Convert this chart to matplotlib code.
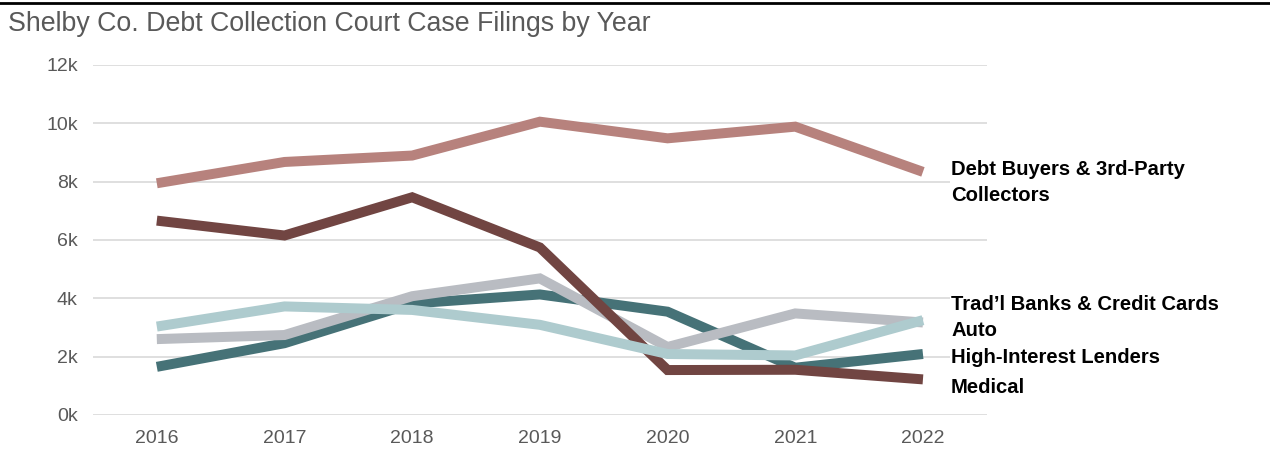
import matplotlib.pyplot as plt
from matplotlib.lines import Line2D

plt.rcParams['font.family'] = ['Liberation Sans', 'DejaVu Sans']

# data (thousands of filings)
years = ['2016', '2017', '2018', '2019', '2020', '2021', '2022']
high_interest = [1.65, 2.46, 3.82, 4.13, 3.54, 1.62, 2.09]
auto = [2.60, 2.74, 4.07, 4.68, 2.33, 3.48, 3.17]
medical = [6.66, 6.15, 7.46, 5.74, 1.54, 1.55, 1.22]
trad_banks = [3.03, 3.72, 3.60, 3.09, 2.09, 2.04, 3.25]
debt_buyers = [7.94, 8.67, 8.89, 10.05, 9.48, 9.88, 8.33]

series_names = ['High-Interest Lenders', 'Auto', 'Medical',
                "Trad\u2019l Banks & Credit Cards",
                'Debt Buyers & 3rd-Party\nCollectors']
series_vals = [high_interest, auto, medical, trad_banks, debt_buyers]
colors = ['#467277', '#b9bcc2', '#714542', '#aecbce', '#b7827d']
label_y = [1.98, 2.91, 0.95, 3.80, 7.97]

fig = plt.figure(figsize=(12.7, 4.53), dpi=100)
ax = fig.add_axes([0.0732, 0.0839, 0.7038, 0.7731])

x = list(range(len(years)))
for vals, c in zip(series_vals, colors):
    ax.plot(x, vals, color=c, lw=7.2, solid_capstyle='butt',
            solid_joinstyle='miter', zorder=3)

for name, ly in zip(series_names, label_y):
    ax.text(6.22, ly, name, fontsize=14.6, fontweight='bold', color='black',
            va='center', ha='left', linespacing=1.45, zorder=5,
            bbox=dict(facecolor='white', edgecolor='none', pad=1))

ax.set_xlim(-0.5, 6.5)
ax.set_ylim(0, 12)
ax.set_xticks(x)
ax.set_xticklabels(years)
ax.set_yticks(range(0, 13, 2))
ax.set_yticklabels([f'{v}k' for v in range(0, 13, 2)])
ax.tick_params(length=0, labelsize=14, labelcolor='#595959')
ax.tick_params(axis='y', pad=11)
ax.tick_params(axis='x', pad=11)
ax.grid(axis='y', color='#d9d9d9', lw=1.2, zorder=0)
for s in ax.spines.values():
    s.set_visible(False)

fig.text(0.0063, 0.9316, 'Shelby Co. Debt Collection Court Case Filings by Year',
         fontsize=19.3, color='#595959', ha='left', va='baseline')
fig.add_artist(Line2D([0, 1], [1 - 3 / 453, 1 - 3 / 453], color='black', lw=2))

fig.savefig('out.png', dpi=100)
